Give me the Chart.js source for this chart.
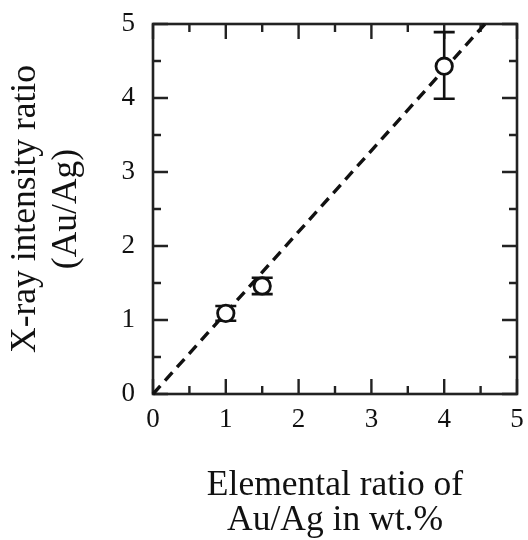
<!DOCTYPE html>
<html>
<head>
<meta charset="utf-8">
<script src="https://cdn.jsdelivr.net/npm/chart.js@4/dist/chart.umd.min.js"></script>
<style>
  html, body { margin: 0; padding: 0; background: #fff; }
  #wrap { width: 528px; height: 540px; }
</style>
</head>
<body>
<div id="wrap"><canvas id="chart" width="528" height="540"></canvas></div>
<script>
// values
var ratioWt   = [1, 1.5, 4];          // Au/Ag in wt.%
var intensity = [1.09, 1.46, 4.43];   // X-ray intensity ratio
var errLow    = [0.99, 1.35, 3.99];
var errHigh   = [1.19, 1.57, 4.89];
var fitX = [0, 4.56];                 // dashed guide line
var fitY = [0, 5];
var tickLabels = ['0', '1', '2', '3', '4', '5'];

var serif = "'Liberation Serif', 'Times New Roman', serif";

// frame, inward ticks and error bars, all placed through the scales
var framePlugin = {
    id: 'frame',
    beforeDatasetsDraw: function(chart) {
        var ctx = chart.ctx;
        var a = chart.chartArea;
        var xs = chart.scales.x, ys = chart.scales.y;
        ctx.save();
        ctx.strokeStyle = '#222';
        ctx.lineWidth = 2.6;
        ctx.strokeRect(a.left, a.top, a.right - a.left, a.bottom - a.top);

        ctx.lineWidth = 2.4;
        xs.ticks.forEach(function(t) {
            var px = xs.getPixelForValue(t.value);
            var len = (t.value % 1 === 0) ? 15 : 8;
            ctx.beginPath();
            ctx.moveTo(px, a.bottom); ctx.lineTo(px, a.bottom - len);
            ctx.moveTo(px, a.top); ctx.lineTo(px, a.top + len);
            ctx.stroke();
        });
        ys.ticks.forEach(function(t) {
            var py = ys.getPixelForValue(t.value);
            var len = (t.value % 1 === 0) ? 15 : 8;
            ctx.beginPath();
            ctx.moveTo(a.left, py); ctx.lineTo(a.left + len, py);
            ctx.moveTo(a.right, py); ctx.lineTo(a.right - len, py);
            ctx.stroke();
        });

        // error bars
        ctx.strokeStyle = '#111';
        ctx.lineWidth = 2.6;
        for (var i = 0; i < ratioWt.length; i++) {
            var cx = xs.getPixelForValue(ratioWt[i]);
            var lo = ys.getPixelForValue(errLow[i]);
            var hi = ys.getPixelForValue(errHigh[i]);
            var cap = 10.5;
            ctx.beginPath();
            ctx.moveTo(cx, lo); ctx.lineTo(cx, hi);
            ctx.moveTo(cx - cap, lo); ctx.lineTo(cx + cap, lo);
            ctx.moveTo(cx - cap, hi); ctx.lineTo(cx + cap, hi);
            ctx.stroke();
        }
        ctx.restore();
    }
};

var points = ratioWt.map(function(x, i) { return { x: x, y: intensity[i] }; });
var fitLine = fitX.map(function(x, i) { return { x: x, y: fitY[i] }; });

function tickText(value) {
    return value % 1 === 0 ? tickLabels[value] : '';
}

var ctx1 = document.getElementById('chart').getContext('2d');
var chart = new Chart(ctx1, {
    type: 'scatter',
    data: {
        datasets: [{
            label: 'measured',
            data: points,
            showLine: false,
            pointRadius: 8.2,
            pointHoverRadius: 8.2,
            pointBorderWidth: 2.8,
            pointBackgroundColor: '#fff',
            pointBorderColor: '#111'
        }, {
            label: 'fit',
            data: fitLine,
            showLine: true,
            borderColor: '#111',
            borderWidth: 3.4,
            borderDash: [11, 7],
            pointRadius: 0,
            fill: false,
            clip: false
        }]
    },
    options: {
        responsive: false,
        animation: false,
        events: [],
        layout: { padding: { left: 0, top: 24, right: 5, bottom: 0 } },
        plugins: {
            legend: { display: false },
            tooltip: { enabled: false }
        },
        scales: {
            x: {
                type: 'linear',
                min: 0, max: 5,
                grid: { display: false, drawTicks: false },
                border: { display: false },
                ticks: {
                    stepSize: 0.5,
                    autoSkip: false,
                    maxRotation: 0,
                    padding: 10,
                    color: '#111',
                    font: { family: serif, size: 27 },
                    callback: tickText
                },
                title: {
                    display: true,
                    text: ['Elemental ratio of', 'Au/Ag in wt.%'],
                    color: '#111',
                    font: { family: serif, size: 35.5, lineHeight: 0.986 },
                    padding: { top: 0, bottom: 2 }
                },
                afterFit: function(scale) {
                    scale.height = 146;
                    scale.paddingLeft = 0;
                    scale.paddingRight = 0;
                }
            },
            y: {
                type: 'linear',
                min: 0, max: 5,
                grid: { display: false, drawTicks: false },
                border: { display: false },
                ticks: {
                    stepSize: 0.5,
                    autoSkip: false,
                    padding: 18,
                    color: '#111',
                    font: { family: serif, size: 27 },
                    callback: tickText
                },
                title: {
                    display: true,
                    text: ['X-ray intensity ratio', '(Au/Ag)'],
                    color: '#111',
                    font: { family: serif, size: 35.5, lineHeight: 1.155 },
                    padding: { top: 5, bottom: 0 }
                },
                afterFit: function(scale) {
                    scale.width = 153;
                    scale.paddingTop = 0;
                    scale.paddingBottom = 0;
                }
            }
        }
    },
    plugins: [framePlugin]
});
</script>
</body>
</html>
